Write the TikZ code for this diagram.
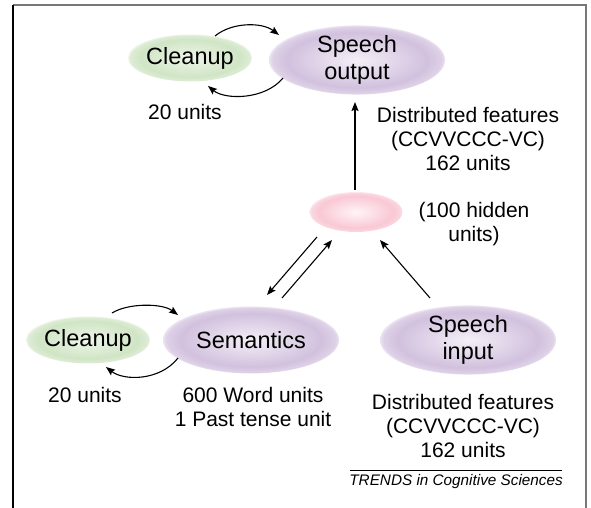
\documentclass[tikz,border=0pt]{standalone}
\usepackage{fontspec}
\setmainfont{Liberation Sans}
\usetikzlibrary{shapes.geometric,arrows.meta}
\definecolor{gout}{RGB}{208,229,197}
\definecolor{gin}{RGB}{238,246,234}
\definecolor{pout}{RGB}{210,193,222}
\definecolor{pin}{RGB}{244,239,247}
\definecolor{rout}{RGB}{249,200,212}
\definecolor{rin}{RGB}{255,244,247}
\definecolor{framegray}{RGB}{120,120,120}
\pgfdeclareradialshading{softgreen}{\pgfpoint{0bp}{0bp}}{color(0bp)=(gin); color(20bp)=(gout); color(24bp)=(gout!75!white); color(25bp)=(gout!45!white); color(50bp)=(white)}
\pgfdeclareradialshading{softlav}{\pgfpoint{0bp}{0bp}}{color(0bp)=(pin); color(20bp)=(pout); color(24bp)=(pout!75!white); color(25bp)=(pout!45!white); color(50bp)=(white)}
\pgfdeclareradialshading{softpink}{\pgfpoint{0bp}{0bp}}{color(0bp)=(rin); color(20bp)=(rout); color(24bp)=(rout!75!white); color(25bp)=(rout!45!white); color(50bp)=(white)}
\tikzset{
  unitbox/.style={ellipse, inner sep=0pt, align=center, font=\fontsize{23.5}{27}\selectfont},
  cleanbox/.style={unitbox, minimum width=106pt, minimum height=47pt, shading=softgreen},
  bigbox/.style={unitbox, minimum width=176pt, minimum height=67pt, shading=softlav},
  hidbox/.style={ellipse, minimum width=93pt, minimum height=40pt, shading=softpink},
  note/.style={align=center, font=\fontsize{21}{24}\selectfont, inner sep=0pt},
  conn/.style={line width=1.1pt, -{Stealth[length=9pt,width=7pt,inset=1.5pt]}},
}
\begin{document}
\begin{tikzpicture}[x=1pt,y=-1pt]
\useasboundingbox (0,0) rectangle (591,508);
\fill[white] (0,0) rectangle (591,508);
% frame
\coordinate (fl) at (13,508);
\coordinate (ftl) at (13,5.5);
\coordinate (ftr) at (586,5.5);
\coordinate (fr) at (586,508);
\draw[framegray, line width=2pt] (ftl) -- (ftr) -- (fr);
\draw[black, line width=1.6pt] (fl) -- (ftl);
% nodes
\node[cleanbox] (cu1) at (190,58) {Cleanup};
\node[bigbox] (so) at (357,60) {Speech\\output};
\node[hidbox] (hid) at (356,212) {};
\node[cleanbox] (cu2) at (88,340) {Cleanup};
\node[bigbox] (sem) at (251,340) {Semantics};
\node[bigbox] (si) at (468,340) {Speech\\input};
% notes
\node[note] (n1) at (185,112) {20 units};
\node[note] (n2) at (468,139) {Distributed features\\(CCVVCCC-VC)\\162 units};
\node[note] (n3) at (474,224) {(100 hidden\\units)};
\node[note] (n4) at (85,395) {20 units};
\node[note] (n5) at (253,407) {600 Word units\\1 Past tense unit};
\node[note] (n6) at (463,426) {Distributed features\\(CCVVCCC-VC)\\162 units};
% credit
\coordinate (tl) at (350,470);
\coordinate (tr) at (562,470);
\draw[line width=0.8pt] (tl) -- (tr);
\node[anchor=east, font=\fontsize{15.3}{17}\selectfont\itshape, inner sep=0pt] (cred) at (563,482) {TRENDS in Cognitive Sciences};
% cleanup loops
\coordinate (a1s) at (215,36); \coordinate (a1e) at (279,35);
\draw[conn] (a1s) .. controls (232,22) and (262,22) .. (a1e);
\coordinate (a2s) at (283,78); \coordinate (a2e) at (208,86);
\draw[conn] (a2s) .. controls (265,100) and (225,100) .. (a2e);
\coordinate (b1s) at (112,313); \coordinate (b1e) at (178,315);
\draw[conn] (b1s) .. controls (128,303) and (162,303) .. (b1e);
\coordinate (b2s) at (178,358); \coordinate (b2e) at (106,367);
\draw[conn] (b2s) .. controls (160,381) and (124,381) .. (b2e);
% straight connectors
\coordinate (h1) at (317,237); \coordinate (s1) at (267,295);
\draw[conn] (h1) -- (s1);
\coordinate (s2) at (282,298); \coordinate (h2) at (332,240);
\draw[conn] (s2) -- (h2);
\coordinate (i1) at (430,298); \coordinate (h3) at (380,240);
\draw[conn] (i1) -- (h3);
\coordinate (h4) at (355,190); \coordinate (o1) at (355,102);
\draw[conn] (h4) -- (o1);
\end{tikzpicture}
\end{document}
